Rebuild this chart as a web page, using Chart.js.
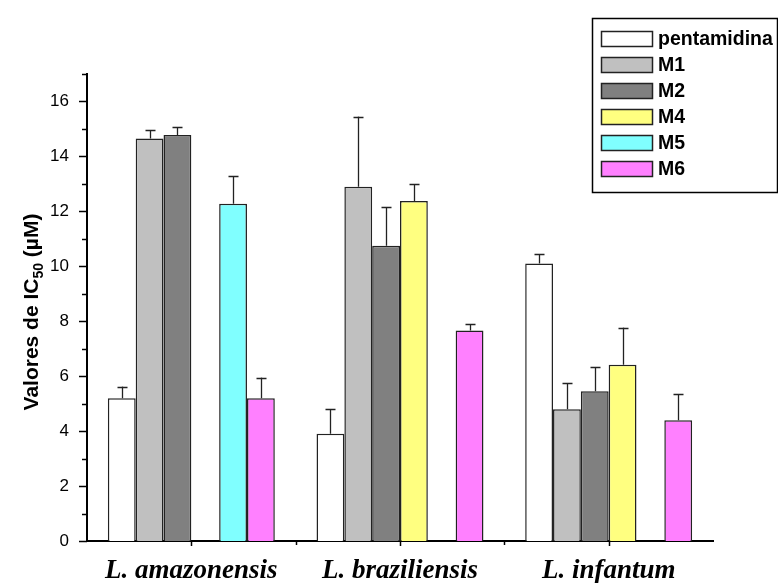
<!DOCTYPE html>
<html>
<head>
<meta charset="utf-8">
<script src="https://cdn.jsdelivr.net/npm/chart.js@4.4.1/dist/chart.umd.min.js"></script>
<style>
  html, body { margin: 0; padding: 0; background: #ffffff; }
  #wrap { width: 778px; height: 583px; }
</style>
</head>
<body>
<div id="wrap"><canvas id="c" width="778" height="583"></canvas></div>
<script>
// ---- data ----
const categories = ['L. amazonensis', 'L. braziliensis', 'L. infantum'];
const seriesNames = ['pentamidina', 'M1', 'M2', 'M4', 'M5', 'M6'];
const seriesColors = ['#FFFFFF', '#C0C0C0', '#808080', '#FFFF80', '#80FFFF', '#FF80FF'];

const pentamidina    = [5.2, 3.9, 10.1];
const pentamidinaErr = [0.42, 0.9, 0.36];
const m1    = [14.65, 12.9, 4.8];
const m1Err = [0.3, 2.55, 0.95];
const m2    = [14.78, 10.75, 5.45];
const m2Err = [0.3, 1.4, 0.88];
const m4    = [null, 12.38, 6.42];
const m4Err = [null, 0.6, 1.35];
const m5    = [12.28, null, null];
const m5Err = [1.0, null, null];
const m6    = [5.2, 7.66, 4.4];
const m6Err = [0.75, 0.24, 0.95];

const yTickValues = [0, 2, 4, 6, 8, 10, 12, 14, 16];
const yMax = 17;

const seriesValues = [pentamidina, m1, m2, m4, m5, m6];
const seriesErrors = [pentamidinaErr, m1Err, m2Err, m4Err, m5Err, m6Err];

const FONT = '"Liberation Sans", Arial, sans-serif';

// ---- plugins ----
const decorPlugin = {
  id: 'decor',
  afterDatasetsDraw(chart) {
    const ctx = chart.ctx;
    const y = chart.scales.y;
    ctx.save();
    ctx.strokeStyle = '#222';
    ctx.lineWidth = 1.3;
    chart.data.datasets.forEach((ds, di) => {
      const meta = chart.getDatasetMeta(di);
      meta.data.forEach((bar, i) => {
        const v = ds.data[i];
        const e = ds.errors[i];
        if (v == null || e == null) return;
        const x = Math.round(bar.x) + 0.5;
        const y0 = y.getPixelForValue(v);
        const y1 = y.getPixelForValue(v + e);
        ctx.beginPath();
        ctx.moveTo(x, y0);
        ctx.lineTo(x, y1);
        ctx.moveTo(x - 5, Math.round(y1) + 0.5);
        ctx.lineTo(x + 5, Math.round(y1) + 0.5);
        ctx.stroke();
      });
    });
    ctx.restore();
  },
  afterDraw(chart) {
    const ctx = chart.ctx;
    const xs = chart.scales.x;
    const ys = chart.scales.y;
    const area = chart.chartArea;
    ctx.save();
    ctx.strokeStyle = '#000';
    ctx.lineWidth = 1.5;
    yTickValues.forEach((v) => {
      const py = Math.round(ys.getPixelForValue(v)) + 0.5;
      ctx.beginPath();
      ctx.moveTo(area.left, py);
      ctx.lineTo(area.left - 8, py);
      ctx.stroke();
      const mv = v + 1;
      if (mv <= yMax) {
        const my = Math.round(ys.getPixelForValue(mv)) + 0.5;
        ctx.beginPath();
        ctx.moveTo(area.left, my);
        ctx.lineTo(area.left - 5, my);
        ctx.stroke();
      }
    });
    const n = categories.length;
    for (let i = 0; i < n; i++) {
      const cx = Math.round(xs.getPixelForValue(i)) + 0.5;
      ctx.beginPath();
      ctx.moveTo(cx, area.bottom);
      ctx.lineTo(cx, area.bottom + 5);
      ctx.stroke();
      if (i < n - 1) {
        const bx = Math.round((xs.getPixelForValue(i) + xs.getPixelForValue(i + 1)) / 2) + 0.5;
        ctx.beginPath();
        ctx.moveTo(bx, area.bottom);
        ctx.lineTo(bx, area.bottom + 4);
        ctx.stroke();
      }
    }

    // y axis title with subscript
    ctx.save();
    ctx.translate(31, 312);
    ctx.rotate(-Math.PI / 2);
    ctx.fillStyle = '#000';
    ctx.textBaseline = 'alphabetic';
    const mainFont = 'bold 21px ' + FONT;
    const subFont = 'bold 14px ' + FONT;
    const p1 = 'Valores de IC', p2 = '50', p3 = ' (\u00B5M)';
    ctx.font = mainFont; const w1 = ctx.measureText(p1).width; const w3 = ctx.measureText(p3).width;
    ctx.font = subFont; const w2 = ctx.measureText(p2).width;
    let sx = -(w1 + w2 + w3) / 2;
    const base = 7;
    ctx.font = mainFont; ctx.fillText(p1, sx, base); sx += w1;
    ctx.font = subFont; ctx.fillText(p2, sx, base + 5); sx += w2;
    ctx.font = mainFont; ctx.fillText(p3, sx, base);
    ctx.restore();

    // legend box
    ctx.lineWidth = 1.5;
    ctx.strokeStyle = '#000';
    ctx.strokeRect(592.5, 18.5, 185, 174);
    ctx.font = 'bold 19.5px ' + FONT;
    ctx.textBaseline = 'middle';
    ctx.textAlign = 'left';
    chart.data.datasets.forEach((ds, i) => {
      const top = 31 + i * 26;
      ctx.fillStyle = ds.backgroundColor;
      ctx.fillRect(601, top, 52, 15);
      ctx.strokeStyle = '#222';
      ctx.strokeRect(601.5, top + 0.5, 51, 15);
      ctx.fillStyle = '#000';
      ctx.fillText(ds.label, 658, top + 8.5);
    });
    ctx.restore();
  }
};

// ---- chart ----
const datasets = seriesNames.map((name, i) => ({
  label: name,
  data: seriesValues[i],
  errors: seriesErrors[i],
  backgroundColor: seriesColors[i],
  borderColor: '#222',
  borderWidth: 1.5,
  borderSkipped: 'start',
  categoryPercentage: 0.8,
  barPercentage: 1.0
}));

new Chart(document.getElementById('c'), {
  type: 'bar',
  data: { labels: categories, datasets },
  options: {
    responsive: false,
    animation: false,
    devicePixelRatio: 1,
    layout: { padding: { left: 0, right: 65, top: 74, bottom: 0 } },
    plugins: { legend: { display: false }, tooltip: { enabled: false } },
    scales: {
      x: {
        offset: true,
        grid: { display: false },
        border: { display: true, color: '#000', width: 2 },
        ticks: {
          color: '#000',
          padding: 6,
          font: { family: '"Liberation Serif", "Times New Roman", serif', size: 27, weight: 'bold', style: 'italic' }
        },
        afterFit(scale) { scale.height = 42; }
      },
      y: {
        min: 0,
        max: yMax,
        grid: { display: false },
        border: { display: true, color: '#000', width: 2 },
        afterBuildTicks(scale) { scale.ticks = yTickValues.map(v => ({ value: v })); },
        ticks: {
          color: '#000',
          padding: 10,
          font: { family: FONT, size: 17 }
        },
        afterFit(scale) { scale.width = 87; }
      }
    }
  },
  plugins: [decorPlugin]
});
</script>
</body>
</html>
